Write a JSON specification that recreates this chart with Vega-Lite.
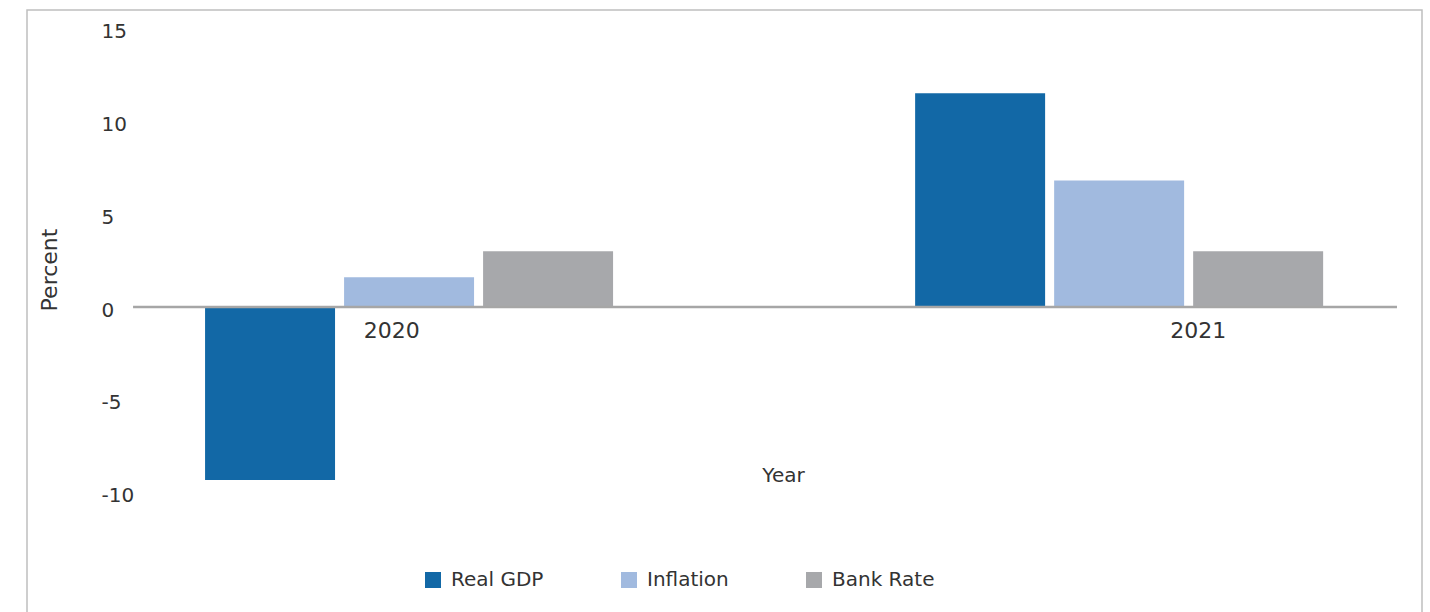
{
  "$schema": "https://vega.github.io/schema/vega-lite/v6.json",
  "autosize": {"type": "none"},
  "width": 1395,
  "height": 610,
  "padding": {"left": 27, "top": 10, "right": 8, "bottom": 0},
  "background": "white",
  "config": {
    "view": {"stroke": "#BFBFBF", "strokeWidth": 1.5},
    "font": "DejaVu Sans"
  },
  "layer": [
    {
      "data": {
        "values": [
          {"year": "2020", "series": "Real GDP", "value": -9.3},
          {"year": "2020", "series": "Inflation", "value": 1.6},
          {"year": "2020", "series": "Bank Rate", "value": 3.0},
          {"year": "2021", "series": "Real GDP", "value": 11.5},
          {"year": "2021", "series": "Inflation", "value": 6.8},
          {"year": "2021", "series": "Bank Rate", "value": 3.0}
        ]
      },
      "mark": {"type": "bar"},
      "encoding": {
        "x": {
          "field": "year",
          "type": "nominal",
          "scale": {"domain": ["2020", "2021"], "paddingInner": 0.4254, "paddingOuter": 0.195, "align": 0.643},
          "axis": {
            "title": "Year",
            "labels": false,
            "ticks": false,
            "domain": false,
            "grid": false,
            "titleX": 756,
            "titleY": -145,
            "titleBaseline": "middle",
            "titleFontSize": 20,
            "titleFontWeight": "normal",
            "titleColor": "#333333"
          }
        },
        "xOffset": {
          "field": "series",
          "type": "nominal",
          "sort": ["Real GDP", "Inflation", "Bank Rate"],
          "scale": {"paddingInner": 0.065, "paddingOuter": 0}
        },
        "y": {
          "field": "value",
          "type": "quantitative",
          "scale": {"domain": [-16.83, 15.97], "nice": false, "zero": false},
          "axis": {
            "title": "Percent",
            "values": [-10, -5, 0, 5, 10, 15],
            "labelExpr": "datum.value + ''",
            "ticks": false,
            "tickSize": 0,
            "domain": false,
            "grid": false,
            "labelAlign": "left",
            "labelBaseline": "middle",
            "labelPadding": -74,
            "labelOffset": 3,
            "labelFontSize": 20,
            "labelColor": "#333333",
            "titleX": 22.5,
            "titleY": 259.5,
            "titleAlign": "center",
            "titleBaseline": "middle",
            "titleFontSize": 22,
            "titleFontWeight": "normal",
            "titleColor": "#333333"
          }
        },
        "color": {
          "field": "series",
          "type": "nominal",
          "sort": ["Real GDP", "Inflation", "Bank Rate"],
          "scale": {"domain": ["Real GDP", "Inflation", "Bank Rate"], "range": ["#1268A6", "#A1BADF", "#A7A8AB"]},
          "legend": {
            "title": null,
            "orient": "none",
            "direction": "horizontal",
            "legendX": 396,
            "legendY": 560,
            "symbolType": "square",
            "symbolSize": 256,
            "symbolStrokeWidth": 0,
            "symbolOpacity": 1,
            "labelFontSize": 20,
            "labelColor": "#333333",
            "labelOffset": 8,
            "columnPadding": 75
          }
        }
      }
    },
    {
      "data": {"values": [{}]},
      "mark": {"type": "rule", "color": "#A6A6A6", "strokeWidth": 2.5},
      "encoding": {
        "x": {
          "datum": "2020",
          "type": "nominal",
          "bandPosition": -0.1765,
          "scale": {"domain": ["2020", "2021"], "paddingInner": 0.4254, "paddingOuter": 0.195, "align": 0.643},
          "axis": null
        },
        "x2": {"datum": "2021", "bandPosition": 1.181},
        "y": {"datum": 0, "type": "quantitative"}
      }
    },
    {
      "data": {"values": [{"year": "2020"}, {"year": "2021"}]},
      "mark": {"type": "text", "dy": 24, "fontSize": 22, "color": "#333333", "baseline": "middle", "align": "center"},
      "encoding": {
        "x": {
          "field": "year",
          "type": "nominal",
          "scale": {"type": "point", "domain": ["2020", "2021"], "padding": 0.365, "align": 0.6197},
          "axis": null
        },
        "y": {"datum": 0, "type": "quantitative"},
        "text": {"field": "year"}
      }
    }
  ],
  "resolve": {"scale": {"x": "independent"}}
}
